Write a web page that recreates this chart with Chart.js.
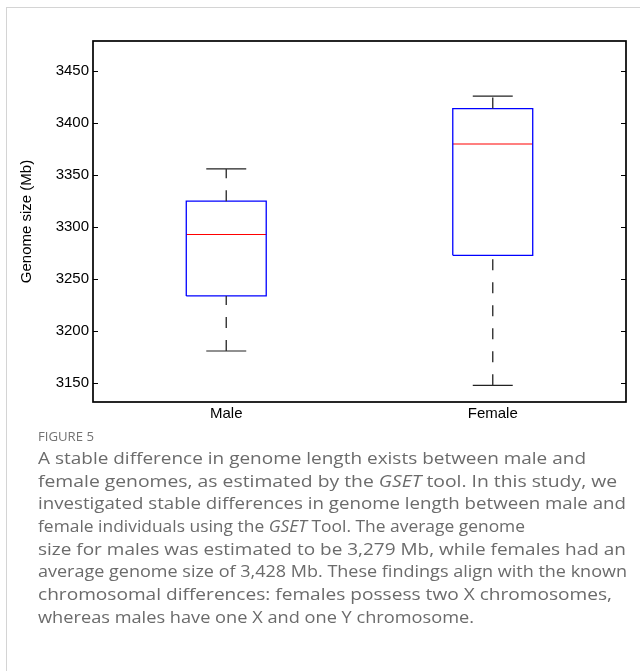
<!DOCTYPE html>
<html><head><meta charset="utf-8">
<script src="https://cdn.jsdelivr.net/npm/chart.js@4.4.0/dist/chart.umd.min.js"></script>
<style>
html,body{margin:0;padding:0;background:#fff;}
body{width:640px;height:671px;position:relative;overflow:hidden;}
#card{position:absolute;left:6px;top:7px;width:700px;height:700px;border-left:1px solid #d4d4d4;border-top:1px solid #d4d4d4;}
#wrap{position:absolute;left:0;top:0;width:640px;height:430px;}
.cap{position:absolute;left:38px;white-space:nowrap;font-family:"Open Sans",sans-serif;color:#6b6b6b;transform-origin:0 50%;}
.fig{font-size:13px;line-height:18px;color:#737373;}
.ln{font-size:16.5px;line-height:20px;}
</style></head>
<body>
<div id="card"></div>
<div id="wrap"><canvas id="c" width="640" height="430"></canvas></div>
<div class="cap fig" style="top:427px" data-end="94">FIGURE 5</div>
<div class="cap ln" style="top:448px" data-end="586">A stable difference in genome length exists between male and</div>
<div class="cap ln" style="top:471px" data-end="617">female genomes, as estimated by the <i>GSET</i> tool. In this study, we</div>
<div class="cap ln" style="top:493px" data-end="626">investigated stable differences in genome length between male and</div>
<div class="cap ln" style="top:516px" data-end="525">female individuals using the <i>GSET</i> Tool. The average genome</div>
<div class="cap ln" style="top:539px" data-end="626">size for males was estimated to be 3,279 Mb, while females had an</div>
<div class="cap ln" style="top:561px" data-end="627">average genome size of 3,428 Mb. These findings align with the known</div>
<div class="cap ln" style="top:584px" data-end="612">chromosomal differences: females possess two X chromosomes,</div>
<div class="cap ln" style="top:607px" data-end="474">whereas males have one X and one Y chromosome.</div>
<script>
const categories = ['Male', 'Female'];
const whiskerLow = [3181, 3148];
const q1 = [3234, 3273];
const median = [3293, 3380];
const q3 = [3325, 3414];
const whiskerHigh = [3356, 3426];
const yTicks = [3150, 3200, 3250, 3300, 3350, 3400, 3450];
const yMin = 3132, yMax = 3479;

function fitCaption(){
  document.querySelectorAll('.cap').forEach(el=>{
    el.style.transform='none';
    const w = el.getBoundingClientRect().width;
    const target = parseFloat(el.dataset.end) - 38;
    if (w > 0) el.style.transform = 'scaleX(' + (target / w) + ')';
  });
}
fitCaption();
if (document.fonts && document.fonts.ready) document.fonts.ready.then(fitCaption);

const HALF_BOX = 0.15, HALF_CAP = 0.075;
const datasets = [];
categories.forEach((c, i) => {
  const x = i + 1;
  const base = {showLine: true, pointRadius: 0, pointHoverRadius: 0, fill: false, tension: 0};
  datasets.push(Object.assign({}, base, {data: [{x, y: whiskerLow[i]}, {x, y: q1[i]}], borderColor: '#333', borderWidth: 1.4, borderDash: [11, 12]}));
  datasets.push(Object.assign({}, base, {data: [{x, y: q3[i]}, {x, y: whiskerHigh[i]}], borderColor: '#333', borderWidth: 1.4, borderDash: [11, 12]}));
  datasets.push(Object.assign({}, base, {data: [{x: x - HALF_CAP, y: whiskerLow[i]}, {x: x + HALF_CAP, y: whiskerLow[i]}], borderColor: '#222', borderWidth: 1.2}));
  datasets.push(Object.assign({}, base, {data: [{x: x - HALF_CAP, y: whiskerHigh[i]}, {x: x + HALF_CAP, y: whiskerHigh[i]}], borderColor: '#222', borderWidth: 1.2}));
  datasets.push(Object.assign({}, base, {data: [
    {x: x - HALF_BOX, y: q1[i]}, {x: x + HALF_BOX, y: q1[i]}, {x: x + HALF_BOX, y: q3[i]},
    {x: x - HALF_BOX, y: q3[i]}, {x: x - HALF_BOX, y: q1[i]}], borderColor: '#0000ff', borderWidth: 1.3}));
  datasets.push(Object.assign({}, base, {data: [{x: x - HALF_BOX, y: median[i]}, {x: x + HALF_BOX, y: median[i]}], borderColor: '#ff0000', borderWidth: 1.1}));
});

const framePlugin = {
  id: 'frame',
  afterDatasetsDraw(chart) {
    const {ctx, chartArea: a, scales: {y}} = chart;
    ctx.save();
    ctx.strokeStyle = '#000';
    ctx.lineWidth = 1;
    yTicks.forEach(v => {
      const py = Math.round(y.getPixelForValue(v)) + 0.5;
      ctx.beginPath();
      ctx.moveTo(a.left, py); ctx.lineTo(a.left + 5, py);
      ctx.moveTo(a.right - 5, py); ctx.lineTo(a.right, py);
      ctx.stroke();
    });
    ctx.lineWidth = 1.7;
    ctx.strokeRect(a.left, a.top, a.right - a.left, a.bottom - a.top);
    ctx.restore();
  }
};

const font = {family: '"Liberation Sans", Arial, sans-serif', size: 15};
new Chart(document.getElementById('c'), {
  type: 'scatter',
  data: {datasets},
  options: {
    responsive: false,
    animation: false,
    layout: {padding: {left: 0, right: 14, top: 41, bottom: 0}},
    plugins: {legend: {display: false}, tooltip: {enabled: false}},
    scales: {
      x: {
        type: 'linear', min: 0.5, max: 2.5,
        afterBuildTicks: s => { s.ticks = categories.map((c, i) => ({value: i + 1})); },
        afterFit: s => { s.height = 28; },
        ticks: {callback: v => categories[v - 1], font, color: '#000', padding: 3, autoSkip: false, maxRotation: 0},
        grid: {display: false, drawTicks: false},
        border: {display: false}
      },
      y: {
        min: yMin, max: yMax,
        afterBuildTicks: s => { s.ticks = yTicks.map(v => ({value: v})); },
        afterFit: s => { s.width = 93; },
        ticks: {callback: v => String(v), font, color: '#000', padding: 4},
        grid: {display: false, drawTicks: false},
        border: {display: false},
        title: {display: true, text: 'Genome size (Mb)', font, color: '#000', padding: {top: 18, bottom: 0}}
      }
    }
  },
  plugins: [framePlugin]
});
</script>
</body></html>
